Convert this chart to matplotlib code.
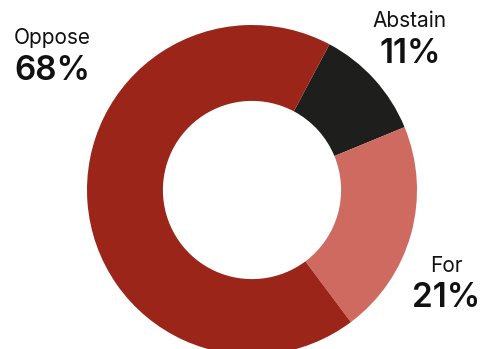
import matplotlib.pyplot as plt

labels = ["Abstain", "For", "Oppose"]
values = [11, 21, 68]
colors = ["#1e1e1c", "#cf6a60", "#9a2518"]

W, H = 480, 349
fig = plt.figure(figsize=(W / 100, H / 100), dpi=100)
# donut centre at (252, 190) px from top-left, radius 165 px
ax = fig.add_axes([87 / W, (H - 190 - 165) / H, 330 / W, 330 / H])
ax.pie(values, colors=colors, startangle=62, counterclock=False,
       radius=1, wedgeprops=dict(width=0.46, edgecolor="none"))
ax.set_xlim(-1, 1)
ax.set_ylim(-1, 1)
ax.set_aspect("equal")
ax.axis("off")

# label positions in pixels (centre x, baseline of name, baseline of percent)
pos = {"Abstain": (410, 27, 63), "For": (446, 272, 307), "Oppose": (52, 44, 80)}
for lab, v in zip(labels, values):
    x, y1, y2 = pos[lab]
    fig.text(x / W, (H - y1) / H, lab, ha="center", va="baseline",
             fontsize=15, family="Inter", color="#111111")
    fig.text(x / W, (H - y2) / H, f"{v}%", ha="center", va="baseline",
             fontsize=24, family="Inter", fontweight="semibold", color="#111111")

fig.savefig("out.png", dpi=100)
